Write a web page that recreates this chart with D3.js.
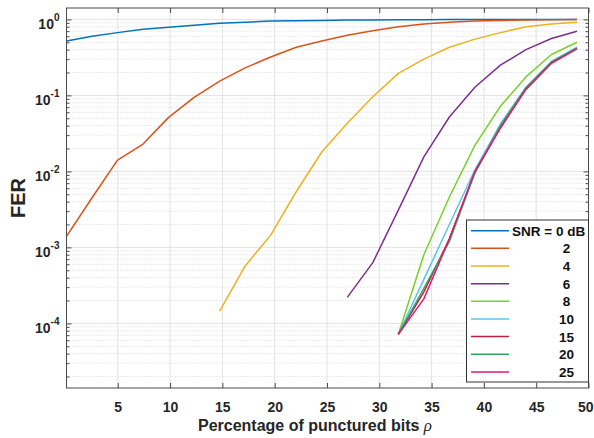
<!DOCTYPE html>
<html>
<head>
<meta charset="utf-8">
<script src="https://cdn.jsdelivr.net/npm/d3@7/dist/d3.min.js"></script>
<style>
  html, body { margin: 0; padding: 0; background: #fff; }
  svg { display: block; font-family: "Liberation Sans", Arial, sans-serif; }
</style>
</head>
<body>
<svg id="chart" width="594" height="438"></svg>
<script>
// Percentage of punctured bits (x positions of the simulated points)
const rho = [0.1, 2.54, 4.98, 7.42, 9.86, 12.3, 14.74, 17.18, 19.62, 22.06, 24.5,
             26.94, 29.38, 31.82, 34.26, 36.7, 39.14, 41.58, 44.02, 46.46, 48.9];

// FER per SNR (null = not simulated / no errors)
const fer0  = [0.52, 0.60, 0.67, 0.74, 0.79, 0.84, 0.89, 0.92, 0.95, 0.96, 0.97,
               0.98, 0.985, 0.99, 0.993, 0.995, 0.997, 0.998, 0.999, 1.0, 1.0];
const fer2  = [1.4e-3, 4.5e-3, 0.0141, 0.0229, 0.0514, 0.094, 0.154, 0.23, 0.32, 0.43, 0.52,
               0.62, 0.71, 0.80, 0.87, 0.92, 0.95, 0.97, 0.985, 0.99, 0.995];
const fer4  = [null, null, null, null, null, null, 1.45e-4, 5.7e-4, 1.45e-3, 5.4e-3, 0.018,
               0.043, 0.096, 0.195, 0.30, 0.43, 0.55, 0.67, 0.80, 0.87, 0.92];
const fer6  = [null, null, null, null, null, null, null, null, null, null, null,
               2.2e-4, 6.3e-4, 3.1e-3, 0.0155, 0.052, 0.128, 0.25, 0.40, 0.56, 0.70];
const fer8  = [null, null, null, null, null, null, null, null, null, null, null,
               null, null, 7.2e-5, 8.0e-4, 4.6e-3, 0.022, 0.072, 0.175, 0.345, 0.50];
const fer10 = [null, null, null, null, null, null, null, null, null, null, null,
               null, null, 7.2e-5, 3.8e-4, 2.0e-3, 0.0105, 0.042, 0.128, 0.28, 0.43];
const fer15 = [null, null, null, null, null, null, null, null, null, null, null,
               null, null, 7.2e-5, 2.6e-4, 1.3e-3, 0.0098, 0.038, 0.122, 0.27, 0.42];
const fer20 = [null, null, null, null, null, null, null, null, null, null, null,
               null, null, 7.2e-5, 2.9e-4, 1.2e-3, 0.0095, 0.040, 0.126, 0.275, 0.42];
const fer25 = [null, null, null, null, null, null, null, null, null, null, null,
               null, null, 7.2e-5, 2.1e-4, 1.3e-3, 0.0100, 0.037, 0.120, 0.265, 0.41];

const legendLabels = ["SNR = 0 dB", "2", "4", "6", "8", "10", "15", "20", "25"];
const lineColors = ["#0072BD", "#D95319", "#EDB120", "#7E2F8E", "#77D12A",
                    "#5CC3EE", "#B8213F", "#2FA463", "#E2196E"];
const xTicks = [5, 10, 15, 20, 25, 30, 35, 40, 45, 50];
const yDecades = [1e-4, 1e-3, 1e-2, 1e-1, 1];
const yExponents = ["-4", "-3", "-2", "-1", "0"];

const series = [fer0, fer2, fer4, fer6, fer8, fer10, fer15, fer20, fer25];

const svg = d3.select("#chart");
const box = { left: 66.5, right: 588.5, top: 8, bottom: 388 };
const axisColor = "#4a4a4a";
const textColor = "#262626";

const x = d3.scaleLinear().domain([0.1, 50]).range([box.left, box.right]);
const y = d3.scaleLog().domain([Math.pow(10, -4.85), Math.pow(10, 0.15)]).range([box.bottom, box.top]);

const plotW = box.right - box.left, plotH = box.bottom - box.top;

// Grid: minor (dotted) then major (solid)
const minorVals = [];
for (let e = -5; e <= 0; e++) {
  for (let m = 2; m <= 9; m++) {
    const v = m * Math.pow(10, e);
    if (v >= y.domain()[0] && v <= y.domain()[1]) minorVals.push(v);
  }
}
const grid = svg.append("g");
grid.selectAll("line.minor").data(minorVals).join("line")
  .attr("x1", box.left).attr("x2", box.right)
  .attr("y1", d => y(d)).attr("y2", d => y(d))
  .attr("stroke", "#d4d4d4").attr("stroke-width", 1).attr("stroke-dasharray", "1,2");
grid.selectAll("line.hmaj").data(yDecades).join("line")
  .attr("x1", box.left).attr("x2", box.right)
  .attr("y1", d => y(d)).attr("y2", d => y(d))
  .attr("stroke", "#e2e2e2").attr("stroke-width", 1);
grid.selectAll("line.vmaj").data(xTicks).join("line")
  .attr("x1", d => x(d)).attr("x2", d => x(d))
  .attr("y1", box.top).attr("y2", box.bottom)
  .attr("stroke", "#e2e2e2").attr("stroke-width", 1);

// Curves
svg.append("clipPath").attr("id", "plotclip")
  .append("rect").attr("x", box.left).attr("y", box.top).attr("width", plotW).attr("height", plotH);
const line = d3.line()
  .defined(d => d[1] != null)
  .x(d => x(d[0])).y(d => y(d[1]));
const curves = svg.append("g").attr("clip-path", "url(#plotclip)");
series.forEach((s, i) => {
  curves.append("path")
    .datum(rho.map((r, k) => [r, s[k]]))
    .attr("d", line)
    .attr("fill", "none")
    .attr("stroke", lineColors[i])
    .attr("stroke-width", 1.5)
    .attr("stroke-linejoin", "round");
});

// Axes box
svg.append("rect").attr("x", box.left).attr("y", box.top).attr("width", plotW).attr("height", plotH)
  .attr("fill", "none").attr("stroke", axisColor).attr("stroke-width", 1);

// Inward ticks on all four sides
const xAxisB = d3.axisBottom(x).tickValues(xTicks).tickSize(-5).tickFormat(d => d);
const gxb = svg.append("g").attr("transform", `translate(0,${box.bottom})`).call(xAxisB);
gxb.select(".domain").remove();
gxb.selectAll(".tick line").attr("stroke", axisColor);
gxb.selectAll(".tick text")
  .attr("y", 14).attr("dy", "0.71em")
  .attr("fill", textColor).attr("font-size", 14).attr("font-weight", "bold")
  .attr("font-family", "Liberation Sans, Arial, sans-serif");
// keep the last label inside the figure edge
gxb.selectAll(".tick text").filter(d => d === 50)
  .attr("text-anchor", "end").attr("x", 593 - x(50));

const xAxisT = d3.axisTop(x).tickValues(xTicks).tickSize(-5).tickFormat("");
const gxt = svg.append("g").attr("transform", `translate(0,${box.top})`).call(xAxisT);
gxt.select(".domain").remove();
gxt.selectAll(".tick line").attr("stroke", axisColor);

[["left", box.left, d3.axisLeft], ["right", box.right, d3.axisRight]].forEach(([side, px, ax]) => {
  const gmaj = svg.append("g").attr("transform", `translate(${px},0)`)
    .call(ax(y).tickValues(yDecades).tickSize(-5).tickFormat(""));
  gmaj.select(".domain").remove();
  gmaj.selectAll(".tick line").attr("stroke", axisColor);
  const gmin = svg.append("g").attr("transform", `translate(${px},0)`)
    .call(ax(y).tickValues(minorVals).tickSize(-3).tickFormat(""));
  gmin.select(".domain").remove();
  gmin.selectAll(".tick line").attr("stroke", axisColor);
});

// Y tick labels as powers of ten
const ylab = svg.append("g");
yDecades.forEach((v, i) => {
  const t = ylab.append("text")
    .attr("x", box.left - 7).attr("y", y(v) + 10)
    .attr("text-anchor", "end")
    .attr("fill", textColor).attr("font-weight", "bold").attr("font-size", 14);
  t.append("tspan").text("10");
  t.append("tspan").attr("dy", -8).attr("font-size", 10).text(yExponents[i]);
});

// Axis titles
const xl = svg.append("text")
  .attr("x", 315).attr("y", 431)
  .attr("text-anchor", "middle")
  .attr("fill", textColor).attr("font-weight", "bold").attr("font-size", 16);
xl.append("tspan").text("Percentage of punctured bits ");
xl.append("tspan").attr("font-family", "Liberation Serif, serif").attr("font-style", "italic")
  .attr("font-weight", "normal").attr("font-size", 17).text("ρ");

svg.append("text")
  .attr("transform", "translate(25,198) rotate(-90)")
  .attr("text-anchor", "middle")
  .attr("fill", textColor).attr("font-weight", "bold").attr("font-size", 20)
  .text("FER");

// Legend
const lg = { x: 466.5, y: 220, w: 122, h: 162, row: 17.65, first: 10.7 };
const legend = svg.append("g");
legend.append("rect")
  .attr("x", lg.x).attr("y", lg.y).attr("width", lg.w).attr("height", lg.h)
  .attr("fill", "#fff").attr("stroke", "#333").attr("stroke-width", 1);
legendLabels.forEach((lab, i) => {
  const cy = lg.y + lg.first + i * lg.row;
  legend.append("line")
    .attr("x1", lg.x + 4.5).attr("x2", lg.x + 42.5)
    .attr("y1", cy).attr("y2", cy)
    .attr("stroke", lineColors[i]).attr("stroke-width", 1.5);
  legend.append("text")
    .attr("x", i === 0 ? lg.x + 45.5 : lg.x + 100)
    .attr("y", cy + 5)
    .attr("text-anchor", i === 0 ? "start" : "middle")
    .attr("fill", "#111").attr("font-weight", "bold").attr("font-size", 13.5)
    .text(lab);
});
</script>
</body>
</html>
